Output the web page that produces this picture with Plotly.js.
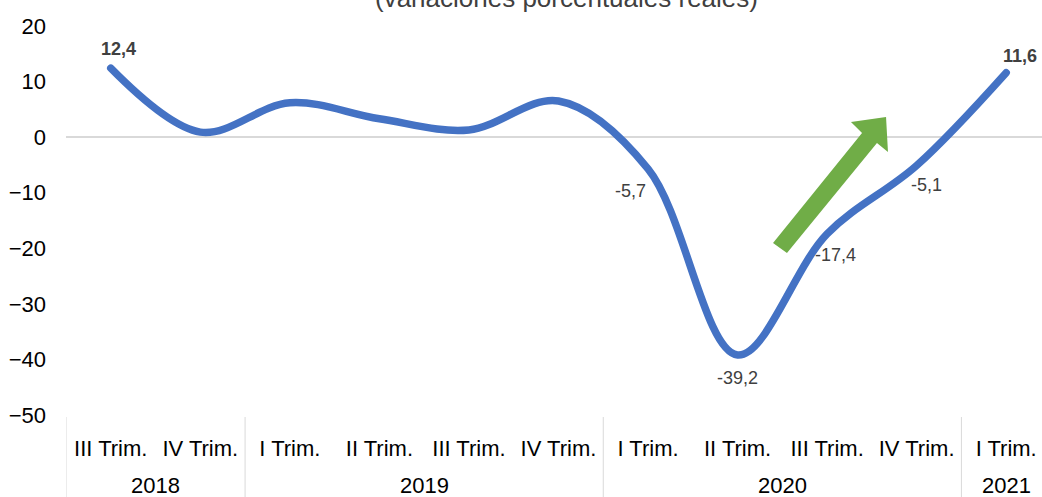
<!DOCTYPE html>
<html>
<head>
<meta charset="utf-8">
<script src="https://cdn.plot.ly/plotly-3.0.1.min.js"></script>
<style>html,body{margin:0;padding:0;background:#fff;}#chart{width:1042px;height:497px;}</style>
</head>
<body>
<div id="chart"></div>
<script>
const years = ['2018','2018','2019','2019','2019','2019','2020','2020','2020','2020','2021'];
const quarters = ['III Trim.','IV Trim.','I Trim.','II Trim.','III Trim.','IV Trim.','I Trim.','II Trim.','III Trim.','IV Trim.','I Trim.'];
const values = [12.4, 0.9, 6.2, 3.3, 1.3, 6.5, -5.7, -39.2, -17.4, -5.1, 11.6];
const labelShown = [true,false,false,false,false,false,true,true,true,true,true];
const labelBold = [true,false,false,false,false,false,false,false,false,false,true];
// label offsets in pixels (dx right, dy up)
const labelDx = [8,0,0,0,0,0,-18,0,8,10,14];
const labelDy = [19,0,0,0,0,0,-22,-23,-21,-20,17];
const titleText = '(variaciones porcentuales reales)';

const idx = quarters.map((q,i)=>i);

const groups=[];
years.forEach((y,i)=>{
  const g=groups[groups.length-1];
  if(g && g.year===y){g.end=i;} else groups.push({year:y,start:i,end:i});
});

const W=1042,H=497,L=66,R=0,T=26,B=82;
const pw=W-L-R, ph=H-T-B;
function px(x){return (x-L)/pw;}
function py(y){return (H-B-y)/ph;}
const arrowPts=[[773,243],[862,133],[851,122],[886,117],[888,152],[877,143],[787,253]];
const arrowPath='M '+arrowPts.map(p=>px(p[0]).toFixed(4)+','+py(p[1]).toFixed(4)).join(' L ')+' Z';

const FONT='Liberation Sans, Arial, sans-serif';
const shapes=[{type:'path', xref:'paper', yref:'paper', path:arrowPath, fillcolor:'#70AD47', line:{width:0}}];
const bounds=[groups[0].start-0.5].concat(groups.map(g=>g.end+0.5));
bounds.forEach(b=>shapes.push({type:'line', xref:'x', yref:'paper', x0:b, x1:b, y0:py(417), y1:py(500),
  line:{color:'#d9d9d9', width:1}}));

const annotations=[{text:titleText, xref:'paper', yref:'paper', x:px(566), y:py(-2), xanchor:'center', yanchor:'middle',
    showarrow:false, font:{family:FONT,size:26,color:'#404040'}}];
groups.forEach(g=>annotations.push({text:g.year, xref:'x', yref:'paper', x:(g.start+g.end)/2, y:py(486),
  xanchor:'center', yanchor:'middle', showarrow:false, font:{family:FONT,size:22,color:'#000'}}));
values.forEach((v,i)=>{
  if(!labelShown[i]) return;
  const s=v.toFixed(1).replace('.',',');
  annotations.push({text:labelBold[i]?'<b>'+s+'</b>':s, xref:'x', yref:'y', x:idx[i], y:v,
    xshift:labelDx[i], yshift:labelDy[i], xanchor:'center', yanchor:'middle', showarrow:false,
    font:{family:FONT,size:18,color:'#404040'}});
});

const trace={
  x:idx, y:values, type:'scatter', mode:'lines',
  line:{color:'#4472C4', width:7.5, shape:'spline', smoothing:1},
  hoverinfo:'none', cliponaxis:false
};
const layout={
  width:W,height:H,margin:{l:L,r:R,t:T,b:B,pad:0},
  paper_bgcolor:'#fff',plot_bgcolor:'#fff',showlegend:false,
  font:{family:FONT, color:'#000'},
  xaxis:{range:[-0.5,10.4], tickvals:idx, ticktext:quarters, showgrid:false, zeroline:false, showline:false,
    ticks:'', tickfont:{size:22,color:'#000'}, ticklabelstandoff:18},
  yaxis:{range:[-50,20], dtick:10, showgrid:false, zeroline:true, zerolinecolor:'#d9d9d9', zerolinewidth:1.5,
    showline:false, ticks:'', tickfont:{size:22,color:'#000'}, ticklabelstandoff:19},
  shapes:shapes,
  annotations:annotations
};
Plotly.newPlot('chart',[trace],layout,{displayModeBar:false,staticPlot:true}).then(()=>{
  document.querySelectorAll('.scatterlayer path.js-line').forEach(p=>p.style.strokeLinecap='round');
});
</script>
</body>
</html>
